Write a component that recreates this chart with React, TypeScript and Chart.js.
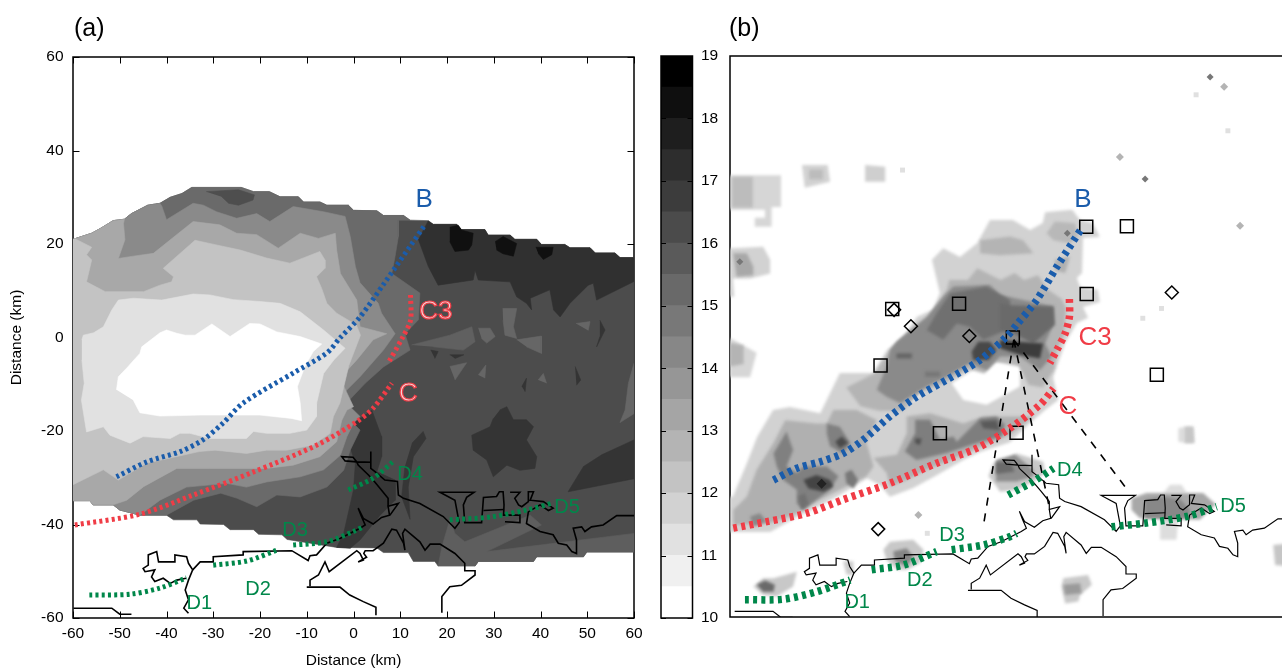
import React, { useEffect, useRef } from "react";
import { Chart, registerables } from "chart.js";

Chart.register(...registerables);

type P = [number, number];

// ---- colour bar ----
const barEdges = [10, 10.5, 11, 11.5, 12, 12.5, 13, 13.5, 14, 14.5, 15, 15.5, 16, 16.5, 17, 17.5, 18, 18.5, 19];
const barGreys = [255, 240, 225, 210, 195, 180, 165, 150, 135, 120, 105, 90, 75, 60, 45, 30, 15, 0];

// ---- panel (a): contour outlines in km ----
const topA: P[] = [[-60, 21], [-56, 22.3], [-54, 23.4], [-51.4, 25], [-49, 25.3]];
const topB: P[] = [[-47.5, 26.5], [-44, 28.3], [-41.4, 28.7]];
const topC: P[] = [[-39.2, 30], [-36.7, 30.8], [-34.6, 32.1], [-24, 32.1], [-21.4, 31.2], [-18, 31.2], [-15.7, 30.1], [-11.8, 30.1], [-10.7, 29], [-7.2, 29], [-5.7, 28.3], [-1.1, 28.3], [0, 27.2], [5, 27.1], [6.4, 26.1], [10.7, 26.1], [12.1, 25.1]];
const topD: P[] = [[16, 25], [17.1, 24.2], [22.1, 24.2], [23.1, 23.1], [28.1, 23.1], [28.8, 21.9], [33.5, 21.9], [34.5, 21], [39.2, 21], [40.2, 19.9], [45.2, 19.9], [46.3, 19.2], [50.6, 19.2], [51.7, 18.1], [55.9, 18.1], [57, 17.1], [60, 17.1]];
const bottomEdge: P[] = [[60, -45.9], [49.9, -45.9], [49.2, -46.9], [39.2, -46.9], [38.5, -47.9], [26.7, -47.9], [26, -48.9], [18.1, -48.9], [17.4, -47.9], [12.8, -47.9], [11.7, -46], [6.4, -46], [5, -45], [-3.6, -44.9], [-14.2, -43.2], [-15.3, -42.2], [-20.3, -42.1], [-21.4, -41.1], [-26.4, -41.1], [-27.8, -40], [-32.8, -39.9], [-33.5, -39], [-38.5, -39], [-40, -38]];
const bottomLeft1: P[] = [[-45.7, -38], [-50, -36.9]];
const bottomLeft2: P[] = [[-51.4, -35.8], [-55.7, -35.8], [-56.4, -34.9], [-60, -34.9]];

const band6Edge: P[] = [[9.6, 25.1], [9.6, 21.6], [8.9, 17.4], [8.2, 13.7], [14.2, 9.5], [13.9, 3.8], [11, 0.8], [12.1, -2.7], [6.4, -6.3], [2.5, -9.8], [-2.9, -15.5], [1.4, -19.8], [-0.7, -24.1], [-2.1, -28.4], [-5.7, -32], [-11.4, -34.1], [-16.4, -33.7], [-20.7, -36.2], [-24.9, -34.4], [-28.4, -33.3], [-34.2, -34.8], [-40, -38]];
const band5Edge: P[] = [[-41, 28.1], [-40, 25.2], [-34.3, 28.7], [-32.1, 28.3], [-29.3, 26.9], [-25, 25.5], [-20.7, 26.5], [-17.9, 24.8], [-12.9, 28], [-6.4, 26.9], [-1.8, 25.9], [-0.7, 21.6], [0.4, 15.2], [1.4, 11.7], [5.3, 7.3], [6, 5.2], [8.9, 0.8], [6.4, -2.7], [1.4, -8.4], [-2.9, -12.7], [1.4, -16.9], [0, -18.3], [-1.4, -21.2], [-2.8, -25.2], [-6.4, -28.3], [-11.4, -29.8], [-18.6, -30.9], [-22.9, -32], [-27.1, -31.2], [-35.7, -32], [-41.4, -34.8]];
const band4Edge: P[] = [[-49.2, 24.4], [-48.9, 20.9], [-50.3, 16.9], [-47.1, 17.4], [-42.8, 18], [-34.3, 24.8], [-28.6, 24.1], [-25, 22.3], [-20.7, 22], [-16.1, 19.1], [-11.4, 22.3], [-7.5, 21.2], [-3.9, 22.3], [-3.6, 18.7], [-2.8, 13.7], [0.7, 8], [1.4, 2.3], [7.1, 0.8], [4.2, -0.5], [0.7, -4.8], [-2.9, -8.7], [0, -14.8], [-1.4, -15.5], [-2.5, -17.7], [-3.6, -22.3], [-7.2, -25.5], [-12.9, -27.3], [-18.6, -28], [-30.7, -28], [-37.8, -28], [-44.9, -31.9], [-48.5, -34.8]];
const band3: P[] = [[-59.7, 21.2], [-56, 19.3], [-57.1, 17.7], [-56, 16.6], [-57.1, 11.9], [-53.1, 9.8], [-44.9, 9.8], [-41.4, 11.2], [-38.9, 11.9], [-38.5, 13], [-40.7, 14.8], [-33.9, 20.8], [-29.3, 19.8], [-24.2, 18.7], [-18.6, 17], [-13.6, 15.9], [-7.2, 18.4], [-6.1, 16.6], [-6.1, 14.8], [-7.9, 13], [-6.8, 10.5], [-5.7, 7.3], [-3.6, 5.2], [0.6, 2.7], [1.5, 0.5], [-1, -6], [-2.9, -14], [-4.3, -16.9], [-5, -20.5], [-8.6, -23], [-14.3, -24.1], [-18.6, -24.1], [-22.9, -24.8], [-29.6, -24.1], [-33, -24.4], [-38, -25.5], [-44.3, -26.9], [-50.3, -30.5], [-53.5, -28.3], [-60, -31.5], [-60, 21]];
const band2: P[] = [[-58.1, -0.5], [-57.8, 0.5], [-55.6, 1], [-53.5, 2.3], [-51.7, 5.9], [-50.3, 8], [-47.1, 8.4], [-41, 8], [-34.3, 9.3], [-30.7, 9.1], [-25.7, 8.1], [-20, 7.7], [-15.7, 7.3], [-11.4, 5.5], [-6.4, 1.6], [-1.8, -2.3], [-4.2, -4.8], [-6.4, -7.7], [-7.9, -14.1], [-7.9, -16.9], [-10, -19.8], [-13.6, -20.5], [-18.6, -20.5], [-21.4, -20.1], [-22.9, -21.6], [-30.7, -21.6], [-35, -20.5], [-37.1, -20.5], [-39.2, -21.6], [-45, -21.2], [-47.8, -22.6], [-52.1, -20.9], [-53.5, -19.1], [-57.1, -20.2], [-58.2, -13.4], [-57.6, -9.8], [-58.1, -4.8]];
const band1: P[] = [[-50.7, -11.2], [-50.3, -8.4], [-48.2, -6.2], [-47.5, -5.4], [-45.7, -3.4], [-45.3, -2], [-41.4, 1], [-40, 1.6], [-37.8, 0.9], [-36, 0.5], [-33.9, 0.5], [-30.3, 2.9], [-26.4, 0.2], [-22.2, 3], [-20, 2.9], [-16.4, 1.2], [-11.4, 0.2], [-6.8, -1.4], [-8.6, -3], [-10.4, -6.2], [-12, -10.5], [-11.4, -14], [-11.1, -17.8], [-13.3, -17.3], [-20, -16.6], [-32.8, -16.6], [-41.4, -16.8], [-45.7, -16.1], [-47.1, -13.4]];
const topPatch: P[] = [[-31.5, 31.2], [-24.6, 31.6], [-21.2, 30.5], [-21.5, 29.4], [-24.6, 28.3], [-26.7, 28.7], [-28.2, 30.1]];

const darkNorth: P[] = [[16, 25], [13.9, 20.9], [16, 15.2], [18.1, 11.2], [25.6, 12.3], [26, 14.4], [26.7, 12.3], [33.5, 11.9], [34.9, 8.7], [37, 7.3], [38.1, 5.9], [37.8, 8.4], [42, 10.2], [42.8, 5.9], [44.2, 4.4], [46.3, 7.3], [50.2, 11.2], [51.3, 11.6], [52, 8], [60, 12], [60, 17.1], [57, 17.1], [55.9, 18.1], [51.7, 18.1], [50.6, 19.2], [46.3, 19.2], [45.2, 19.9], [40.2, 19.9], [39.2, 21], [34.5, 21], [33.5, 21.9], [28.8, 21.9], [28.1, 23.1], [23.1, 23.1], [22.1, 24.2], [17.1, 24.2]];
const black1: P[] = [[20.6, 23.6], [22.4, 24], [23.1, 23], [25.6, 22.3], [25.3, 19.8], [24.6, 18.7], [21.7, 18.4], [20.6, 20.5]];
const black2: P[] = [[30.3, 20.5], [32, 21.6], [34.9, 20.1], [34.2, 17.4], [32, 17.9], [30.6, 18.7]];
const black3: P[] = [[39, 19.3], [42.7, 19.3], [42.4, 17.7], [40.6, 16.7], [39.5, 18]];
const darkCentre: P[] = [[31.3, -15.5], [32.8, -14.8], [34.2, -17.6], [37, -17.6], [38.5, -19.1], [37, -21.9], [39.2, -25.5], [38.8, -28], [35.6, -28.4], [32.8, -27.3], [29.9, -29.8], [28.5, -26.2], [25.6, -24.1], [25.3, -20.9], [29.2, -19.1], [29.9, -17.3]];
const darkEast: P[] = [[60, -21.9], [53.1, -25.1], [49.2, -27.6], [45.9, -33], [60, -30.2]];
const darkCoast: P[] = [[3.9, -15.5], [6, -21.2], [6, -25.5], [5, -28.7], [8.9, -30.5], [8.9, -34.8], [5.7, -38], [1.4, -43.3], [-0.7, -45.1], [-3.6, -44.9], [-2.1, -41.9], [0, -32.6], [0.4, -26.9], [-1, -22.6], [0, -18.3], [1.4, -17.3]];
const darkStreak: P[] = [[12.5, -22.6], [14.9, -20.1], [15.5, -21.6], [12.8, -25.5], [11.7, -32], [12.1, -38.9], [10.3, -34.1], [11, -27.6]];
const lightSouth: P[] = [[18.1, -48.9], [18.9, -44.8], [20.6, -39], [21.7, -41.9], [23.8, -43.7], [37.8, -38], [40.2, -40.1], [28.5, -45.8], [60, -41.9], [60, -45.9], [49.9, -45.9], [49.2, -46.9], [39.2, -46.9], [38.5, -47.9], [26.7, -47.9], [26, -48.9]];
const lightA1: P[] = [[26.7, 2], [29.2, 2], [30.3, 0.2], [28.5, -1.2], [27.4, -0.2]];
const lightA2: P[] = [[31.9, 6.2], [34.9, 6.2], [34.2, 2.3], [34.9, -0.2], [32.4, 0.5], [32, 3.7]];
const lightA3: P[] = [[34.9, -0.5], [40.2, 0.3], [40.2, -3.4], [37, -2]];
const lightA4: P[] = [[20.6, -6.2], [24.2, -5.4], [21.7, -9.1]];
const lightA5: P[] = [[26.7, -8], [28.3, -5.9], [28.1, -8.7]];
const lightA6: P[] = [[47.6, 3], [50.6, 3.4], [50.2, 1.5]];
const lightA7: P[] = [[39.5, -9.1], [40.6, -7.7], [41.3, -9.8]];
const lightA8: P[] = [[12.4, -1.6], [20.6, 0.5], [25.3, 2.3], [26, -0.9], [23.5, -2.7], [17.1, -2]];
const lightA9: P[] = [[60, -5.5], [58.8, -9.8], [58.1, -15.5], [57, -18.2], [60, -16.3]];
const darkA1: P[] = [[16.5, -2.7], [18.1, -3], [17.4, -4.5]];
const darkA2: P[] = [[20.6, -3.7], [23.6, -3.7], [21.7, -4.5]];
const darkA3: P[] = [[47.4, -6.2], [48.6, -9.1], [47.7, -10.2]];
const darkA4: P[] = [[52.7, 3.7], [53.8, 1.6], [52, -2], [52.7, 0.2]];
const darkA5: P[] = [[36, -10.5], [37, -8.7], [36.7, -11.6]];

// ---- shared coastline in km ----
const coastSW: P[] = [[-59.9, -57.9], [-51.7, -57.9], [-50, -59.2], [-47.5, -59.2]];
const coastWest: P[] = [[-35.3, -59], [-36.3, -57.9], [-35.3, -56.1], [-36, -54], [-35.3, -51.9], [-34.4, -49.7], [-35.3, -48.3], [-35.7, -46.9], [-38.2, -46.5], [-38.2, -48], [-41.7, -48], [-42.1, -45.8], [-43.9, -46.5], [-43.9, -48.7], [-45, -49.4], [-44.6, -50.1], [-42.5, -49.7], [-43.2, -51.2], [-42.5, -52.2], [-40.7, -51.5], [-39.2, -52.6], [-37.8, -51.9], [-35.8, -51.5]];
const coastNorth: P[] = [[-34.4, -49.7], [-32.8, -48], [-30, -48], [-30, -46.9], [-23.6, -46.5], [-23.6, -45.8], [-13.2, -45.6], [-9.7, -47.7], [-9.3, -46.7], [-7.9, -46.5], [-5.7, -44], [-2.9, -43], [1.4, -40.8], [2.5, -40.1], [1.7, -38.3], [1, -36.5], [2.1, -38.7], [4.2, -39.9], [6, -38.5], [7.7, -38], [7.4, -36.1], [9.6, -35.5], [7.8, -38]];
const coastInlet: P[] = [[7.4, -36.1], [7.4, -34.4], [5.7, -32.3], [4.2, -30.5], [3.2, -29.4], [1, -27.3], [0.7, -26.6], [-0.1, -25.6], [-2.5, -25.5], [-1.8, -26.4], [0.7, -26.6], [3.7, -26.7], [3.7, -24.4], [3.7, -28], [4.6, -28.7], [6.7, -30.5], [9.4, -30.8], [9.6, -33.7], [10.7, -34.4], [14.2, -35.5], [19.2, -38.3], [21.7, -40.8], [22.6, -39.6], [21.7, -34.8], [18.5, -33.1], [25.8, -33.1], [24.2, -34.2], [23.5, -35.8], [23.8, -39.6], [27.4, -39.6], [27.8, -34.2], [30.6, -34], [31.2, -33], [32, -33], [32.2, -35.8], [32.1, -38], [35.6, -38], [35.6, -39.6], [32.4, -39.4]];
const coastBox: P[] = [[27.8, -37], [32.2, -36.8]];
const coastEast: P[] = [[33.5, -33.1], [35.6, -33.1], [34.5, -34.4], [35.3, -35.8], [36, -36.2], [37.4, -35.1], [37.4, -33], [38.5, -33], [37.8, -34.8], [40.6, -35.1], [42.7, -36.5], [41.7, -37], [39.9, -35.8], [37.4, -37.3], [37, -39.8], [39.9, -41.5], [42.7, -42.2], [43.8, -44], [45.6, -44.4], [46.7, -45.8], [47.7, -46.2], [47.7, -43.3], [47, -40.8], [48.8, -40.5], [49.5, -41.5], [50.9, -40.5], [53.4, -40.1], [56.3, -38.1], [60, -38.1]];
const coastIsleW: P[] = [[-10, -53.4], [-2.9, -53.4], [-0.8, -55.1], [2.1, -56.5], [4.8, -57.7], [4.8, -59.4]];
const coastIsleE: P[] = [[-9.3, -53.2], [-9.3, -51.9], [-7.5, -50.8], [-6.1, -48], [-5.2, -50.1], [0.7, -45.6], [1.4, -46.2], [2.1, -47.6], [1, -48], [2.8, -47], [2.2, -46.2], [2.5, -45.6], [4.2, -45.6], [6.4, -44], [8.2, -41], [9.2, -41.2], [10.7, -44], [11, -45.5], [10.5, -41.9], [11, -41], [14.2, -43.7], [15.3, -45.5], [16.4, -44.2], [18.5, -44.2], [21.7, -46.2], [23.8, -48.3], [23.8, -49.9], [26, -49.9], [26, -50.8], [23.1, -53], [20.6, -53.3], [18.9, -55.4], [18.9, -58.9]];

// ---- front lines, panel (a) ----
const lineB_a: P[] = [[-50.7, -29.8], [-44.2, -26.6], [-37.1, -24.4], [-32.2, -21.9], [-27.9, -18.3], [-23.6, -14], [-12.9, -7.6], [-5.7, -3.3], [-2.9, -0.1], [1.4, 4.4], [6.3, 11.2], [15.3, 24.1]];
const lineC_a: P[] = [[-59.6, -40.1], [-45.7, -37.8], [-34.3, -33.7], [-21.5, -28.8], [-7.8, -23], [0.7, -18], [4.2, -15.1], [8.2, -9.8]];
const lineC3_a: P[] = [[12.2, 9.1], [12.2, 3.7], [10.6, 0.2], [7.4, -5.5]];
const lineD1_a: P[] = [[-56.5, -55.1], [-47.8, -54.9], [-41.4, -53.6], [-35.7, -51.4]];
const lineD2_a: P[] = [[-30, -48.7], [-22.8, -47.8], [-16.4, -45.5]];
const lineD3_a: P[] = [[-12.9, -44.4], [-5.7, -43.7], [0, -41.5], [2.1, -40.5]];
const lineD4_a: P[] = [[-1.1, -32.6], [4.2, -30.1], [8.4, -26.6]];
const lineD5_a: P[] = [[20.6, -39], [29.2, -38.4], [37, -36.9], [42.7, -35.4]];

// ---- front lines, panel (b) ----
const lineB_b: P[] = [[-51.6, -29.8], [-46.6, -27.3], [-41.6, -25.9], [-36.7, -24.1], [-32.4, -21.2], [-26.7, -16.2], [-21, -12], [-14.6, -8.4], [-7.4, -4.1], [-1.7, 0.9], [0.4, 3.4], [4.7, 8.7], [9, 15.8], [14.3, 24]];
const lineC_b: P[] = [[-60.2, -40.1], [-53, -38.7], [-44.5, -36.9], [-36.7, -34], [-26.7, -30.5], [-16.7, -26.2], [-8.1, -23], [-1, -18.7], [5.4, -13.7], [8.3, -10.2]];
const lineC3_b: P[] = [[11.7, 8.9], [11.7, 5.1], [10.8, 1.6], [9, -2], [7.5, -4.8]];
const lineD1_b: P[] = [[-57.7, -55.4], [-49.5, -55.3], [-42.4, -53.7], [-35.2, -51.2]];
const lineD2_b: P[] = [[-30.6, -49], [-23.8, -48], [-16.7, -45.1]];
const lineD3_b: P[] = [[-13.5, -44.7], [-6.7, -43.7], [-1, -41.9], [0.4, -41.2]];
const lineD4_b: P[] = [[-1.4, -33], [4, -30.1], [8.3, -27.3]];
const lineD5_b: P[] = [[20.7, -39.8], [28.2, -39], [36.8, -37.6], [43.2, -35.5]];
const sightA: P[] = [[-0.2, 0.2], [-6.6, -39]];
const sightB: P[] = [[-0.2, 0.2], [7.6, -36.6]];
const sightC: P[] = [[-0.2, 0.2], [23.8, -31.5]];
const squares: P[] = [[-26.2, 6.8], [-11.9, 7.9], [-28.7, -5.3], [15.3, 24.4], [24, 24.5], [15.4, 10], [30.4, -7.3], [-0.4, 0.7], [-16, -19.8], [0.4, -19.7]];
const diamonds: P[] = [[-25.8, 6.6], [-22.2, 3.1], [-9.7, 1], [33.6, 10.3], [-29.2, -40.3]];

// ---- panel (b): echo patches in km ----
const echoMain: P[] = [[-60.9, -33.4], [-60.3, -33.4], [-57.3, -26.2], [-55.1, -20.6], [-51.7, -14.8], [-48.1, -14.2], [-41.6, -15.5], [-37.4, -6.9], [-30.3, -6.9], [-27.3, -2], [-23.9, 0.6], [-20.9, 5.1], [-17.5, 6.6], [-16, 10.2], [-17.7, 17.3], [-15.3, 19.8], [-11.7, 17.9], [-8, 20.9], [-5.3, 25.8], [-0.4, 25.8], [3.3, 23.7], [6, 25.2], [6.5, 27.5], [12.3, 28], [14, 25.8], [16.7, 25.2], [18.2, 22.2], [14.6, 22], [14.4, 14.5], [13.3, 13.4], [14, 11.5], [17.8, 10.9], [18.2, 8.3], [14.6, 7.2], [15.7, 4.9], [13.3, 3.8], [10.8, -0.5], [8.2, -7.8], [9.3, -12.7], [6.5, -14.8], [3.3, -17.6], [-1, -21.7], [-7.4, -23.8], [-11, -25.5], [-16.6, -28.7], [-21.7, -31.5], [-26.7, -33.4], [-28.8, -30.9], [-31.6, -29.4], [-37.4, -33], [-42.3, -35.6], [-46.6, -37.7], [-52.3, -40.9], [-60.9, -40.9]];
const holeCentre: P[] = [[-13.5, -9.1], [-6.7, -4.8], [-1, -4.1], [1.1, -4.8], [1.1, -9.8], [-6, -13.7], [-11, -12.7]];
const holeSmall1: P[] = [[-24.5, -14.1], [-18.8, -10.2], [-21, -12.7]];
const holeSmall2: P[] = [[-42.7, -24.1], [-40.2, -23.7], [-39.1, -26.2], [-43, -25.5]];
const upperMid: P[] = [[-30, -7], [-27.3, -3], [-24.5, 0.2], [-20.5, 3.5], [-18, 5.5], [-16, 8.5], [-14.5, 11], [-14, 13], [-10, 13], [-8, 15.5], [-6, 14.5], [-3, 13], [0, 14.5], [2, 13], [5, 14], [7, 11], [10, 9], [11, 7], [10.5, 1], [9, -2], [8.5, -6], [6, -10], [3, -9.5], [1, -5.5], [-4, -4.5], [-6.5, -7], [-10, -6], [-15, -9], [-20, -11], [-24, -15], [-29, -15], [-33, -14], [-36, -10]];
const upperMidB: P[] = [[-7.4, 21.5], [-1, 22.3], [1.8, 21.5], [4, 18.7], [-3.15, 18.3], [-7.4, 18.7]];
const upperMidC: P[] = [[6.8, 23], [8.6, 25.5], [12.9, 25.1], [13.6, 22.3], [11.8, 20.8], [8.3, 21.5]];
const upperMidD: P[] = [[8.6, 17.3], [11.8, 18], [10.8, 14.5], [8.6, 15]];
const upperDeep: P[] = [[-26.7, -2], [-25.3, -0.2], [-18.8, 5.1], [-15.3, 9.4], [-13.1, 11.6], [-5.3, 11.9], [-3.15, 9.8], [8.3, 7.3], [8.3, 3.7], [6.5, -0.6], [7.9, -3.4], [5.4, -6.3], [1.1, -3.4], [-3.15, -3.4], [-6, -6.3], [-9.6, -4.8], [-14.6, -7.7], [-18.8, -9.8], [-24.5, -13.4], [-27.4, -12], [-29.5, -10.5], [-27.4, -5.5]];
const upperDeepW: P[] = [[-13.8, 10.1], [-6, 11.6], [-1, 8.7], [-1, 2.6], [-6.7, 0.2], [-9.6, 3], [-12.4, 3.7], [-15.3, 0.2], [-18.8, 2.3], [-16.7, 5.9]];
const upperDeepE: P[] = [[-3.15, 8], [-1, 7.6], [8.3, 7.3], [8.6, 3.4], [4, -0.6], [-0.3, 1.6], [-3.15, 2.3]];
const coreNE: P[] = [[-3.15, 0.15], [0.4, -0.2], [6.1, -0.6], [5.4, -3.8], [1.1, -3], [-3.15, -1.6]];
const coreN: P[] = [[-9.2, -2.3], [-7.8, -0.2], [-5.3, -0.2], [-3.9, -2], [-5.6, -4.1], [-8.9, -4.1]];
const stripA: P[] = [[-25.3, -2.7], [-22, -2.7], [-22, -3.8], [-25.3, -3.8]];
const stripB: P[] = [[-19.2, -6.6], [-16, -6.6], [-16, -7.7], [-19.2, -7.7]];
const lowerWest: P[] = [[-60.2, -36.2], [-57.3, -33.3], [-55.2, -27.6], [-51.6, -21.9], [-49.1, -17], [-42.4, -17.7], [-40.2, -17.7], [-38.8, -14.8], [-33.8, -14.8], [-29.5, -17], [-31.7, -21.9], [-30.2, -26.9], [-31.7, -29], [-37.4, -31.9], [-42.4, -34.4], [-46.6, -36.9], [-52.3, -39], [-60.2, -39.4]];
const lowerDeep: P[] = [[-51.6, -24.1], [-48.8, -19.4], [-47.4, -23.4], [-48.8, -26.9], [-46.6, -28.3], [-45.2, -26.9], [-40.2, -26.9], [-37.7, -29], [-39.5, -31.9], [-42.4, -34], [-45.2, -36.2], [-46.6, -34.8], [-46.6, -31.9], [-49.5, -29.8], [-50.9, -26.9]];
const lowerCore: P[] = [[-45.2, -29.8], [-42.4, -28.7], [-39.5, -29.8], [-38.8, -31.2], [-40.9, -32.3], [-44.1, -31.6]];
const lowerUp: P[] = [[-40.2, -17.7], [-37.4, -18.4], [-35.2, -21.9], [-36.7, -24.1], [-39.5, -22.6], [-40.2, -19.8]];
const lowerUpCore: P[] = [[-38.4, -21.6], [-37, -20.5], [-35.6, -21.9], [-37.4, -23]];
const lowerC: P[] = [[-36.3, -28.3], [-34.9, -27.6], [-33.5, -29.8], [-34.5, -31.6], [-36, -30.5]];
const lowerD: P[] = [[-56.6, -37.6], [-54.5, -36.9], [-53.1, -38.7], [-55.9, -39.8]];
const lowerE: P[] = [[-46.3, -33.3], [-44.9, -32.6], [-44.1, -34.8], [-45.6, -36.2]];
const midBand: P[] = [[-30.2, -25.1], [-25.2, -24.4], [-23.1, -19.8], [-23.1, -16.2], [-18.1, -15.5], [-11, -17.7], [-6.7, -16.2], [-3.1, -16.2], [4, -16.2], [-1, -20.1], [-8.1, -23], [-13.8, -25.5], [-18.8, -27.6], [-23.1, -29.8], [-26.7, -31.2], [-27.4, -28.3]];
const midDeep: P[] = [[-23.5, -23.7], [-21.3, -19.8], [-21.3, -16.9], [-18.1, -16.9], [-16, -21.2], [-13.1, -20.5], [-12.4, -21.6], [-7.4, -16.6], [-3.9, -16.2], [-2.1, -18], [-2.8, -20.5], [-8.1, -21.9], [-14.6, -24], [-21, -25.5]];
const midCoreA: P[] = [[-21.3, -20.9], [-19.9, -20.9], [-20.3, -22.3], [-21.3, -21.9]];
const midCoreB: P[] = [[-7.4, -17.3], [-3.9, -17], [-3.2, -19.1], [-6.7, -18.7]];
const westA: P[] = [[-60.3, 19.8], [-53.8, 20.1], [-52.3, 17.3], [-52.3, 14.4], [-56.6, 13.3], [-60.3, 13.3], [-60, 9.4], [-60.9, 9.4], [-60.9, 19.8]];
const westAInner: P[] = [[-60.2, 18.7], [-57.3, 18.7], [-55.9, 15.8], [-55.9, 14], [-59.5, 13.7]];
const westB: P[] = [[-60.9, 35.4], [-50, 35.4], [-50, 28.6], [-52, 28.6], [-52, 24.4], [-55.6, 24.4], [-55.6, 26.3], [-53.4, 26.3], [-53.4, 28], [-60.9, 28]];
const westBInner: P[] = [[-60.5, 35], [-56, 35], [-56, 28.5], [-60.5, 28.5]];
const northA: P[] = [[-45.5, 37.6], [-40, 37.6], [-39.5, 34], [-44.9, 32.7]];
const northAInner: P[] = [[-44, 36.6], [-41, 36.6], [-41, 34.5], [-44, 34.5]];
const northB: P[] = [[-32, 37.6], [-27.7, 37.2], [-27.7, 34], [-32, 34]];
const westC: P[] = [[-60.9, 0.6], [-55.2, -2.6], [-56.6, -7.8], [-60.9, -7.8]];
const westCInner: P[] = [[-60.9, -0.5], [-58, -1], [-58, -5], [-60.9, -5.5]];
const eastBlob: P[] = [[35, -18.7], [36.4, -18.4], [38.2, -18.4], [38.4, -21.9], [36.4, -21.9], [35, -21.6]];
const eastBlobInner: P[] = [[36.4, -18.4], [38.2, -18.4], [38.4, -21.9], [36.4, -21.9]];
const edgeBlob: P[] = [[55.3, -43.7], [59, -43.3], [59, -48.3], [55.7, -48]];
const d5Top: P[] = [[31.8, -32.6], [33.2, -30.8], [35.7, -30.8], [36.8, -32.6]];
const d5Bottom: P[] = [[31.1, -38], [35, -38], [34.6, -42.6], [31.1, -42.6]];
const d5Outer: P[] = [[25, -33.7], [28.2, -32.6], [40.3, -32.6], [43, -35], [39.6, -38.3], [26.8, -38], [25, -36.2]];
const d5Inner: P[] = [[27.8, -34], [31.8, -33.3], [35.5, -34], [37.5, -36.2], [37, -38], [27.8, -38]];
const d4Outer: P[] = [[-5.6, -29], [-4.6, -26.2], [-1, -24.8], [0.4, -24.1], [6.1, -25.9], [6.5, -28.3], [4, -30.1], [0.4, -31.9], [-3.15, -32.3], [-3.9, -31.2]];
const d4Inner: P[] = [[-4, -25.5], [0.06, -24.4], [4, -27.6], [4, -29], [0.4, -30.1], [-4, -30.1]];
const d4Core: P[] = [[-4, -26], [-1, -26], [0, -28], [-4, -28.5]];
const isleOuter: P[] = [[10, -52.6], [10.4, -50.8], [15.7, -50.1], [16.5, -52.2], [14, -54.4], [13.6, -55.8], [10.8, -56.2]];
const isleInner: P[] = [[10.4, -52.2], [14, -51.9], [14.3, -54], [10.8, -54.4]];
const d2Outer: P[] = [[-28.1, -44.7], [-26.7, -43], [-21.7, -42.6], [-19.5, -44.7], [-20.3, -47.6], [-23.1, -49], [-25.2, -49], [-27.4, -46.9]];
const d2Inner: P[] = [[-26, -45.1], [-23.1, -44.4], [-21.7, -46.2], [-23.1, -48.3], [-25.6, -47.2]];
const d15Blob: P[] = [[-36.7, -47.2], [-34.5, -47.2], [-34.5, -50.1], [-36, -50]];
const d1Outer: P[] = [[-55.9, -52.6], [-53.8, -50.8], [-51.6, -50.8], [-46.6, -49.4], [-47.4, -52.6], [-50.9, -54.7], [-53.8, -54.4]];
const d1Inner: P[] = [[-55.2, -52.2], [-53.4, -51.3], [-51.3, -52.2], [-51.6, -53.7], [-53.8, -53.7]];
const specksDark: P[] = [[41.8, 56.4], [27.9, 34.6], [-58.8, 16.9], [11.25, 23]];
const specksMid: P[] = [[44.8, 54.3], [22.5, 39.3], [-20.6, -37.3], [48.2, 24.6]];
const specksLight: P[] = [[38.8, 52.6], [31.4, 6.9], [27.4, 4.8], [-18.7, -41.2], [45.6, 44.9], [-24, 36.5]];
const specksBlack: P[] = [[-41.3, -30.6]];

const labelsA = { B: [15.1, 29.4], C3: [17.6, 5.5], C: [11.7, -12.1], D1: [-33, -56.8], D2: [-20.4, -54], D3: [-12.5, -41.2], D4: [12.1, -29.4], D5: [45.7, -36.3] };
const labelsB = { B: [14.6, 30.1], C3: [17.2, 0.6], C: [11.4, -14.2], D1: [-33.7, -56.1], D2: [-20.3, -51.2], D3: [-13.4, -41.6], D4: [11.8, -27.7], D5: [46.7, -35.4] };

const BLUE = "#1a5cab";
const RED = "#f03c46";
const GREEN = "#00874a";
const FONT = '"Liberation Sans", Arial, sans-serif';

const pts = (a: P[]) => a.map(([x, y]) => ({ x, y }));

const poly = (a: P[], color: string) => ({
  data: pts(a), showLine: true, pointRadius: 0, borderWidth: 0.6, borderColor: color, polyFill: color, tension: 0,
});
const echo = (a: P[], color: string) => ({
  data: pts(a), showLine: true, pointRadius: 0, borderWidth: 0, borderColor: color, polyFill: color, polyBlur: 1.6, tension: 0,
});
const path = (a: P[], color: string, width: number, dash: number[] = [], tension = 0) => ({
  data: pts(a), showLine: true, pointRadius: 0, borderWidth: width, borderColor: color, borderDash: dash,
  backgroundColor: "transparent", tension, fill: false, borderCapStyle: "butt",
});
const marks = (a: P[], style: string, r: number, color: string, fillColor = "transparent", bw = 1.5) => ({
  data: pts(a), showLine: false, pointStyle: style, pointRadius: r, pointBackgroundColor: fillColor,
  pointBorderColor: color, pointBorderWidth: bw,
});
const ordered = (list: any[]) => list.map((d, i) => ({ ...d, order: list.length - i }));

const panelPlugin: any = {
  id: "panel",
  beforeDatasetDraw(chart: any, args: any) {
    const ds = chart.data.datasets[args.index];
    if (!ds.polyFill) return;
    const els = args.meta.data;
    const { ctx, chartArea: c } = chart;
    ctx.save();
    ctx.beginPath();
    ctx.rect(c.left, c.top, c.right - c.left, c.bottom - c.top);
    ctx.clip();
    if (ds.polyBlur) ctx.filter = `blur(${ds.polyBlur}px)`;
    ctx.beginPath();
    els.forEach((e: any, i: number) => (i ? ctx.lineTo(e.x, e.y) : ctx.moveTo(e.x, e.y)));
    ctx.closePath();
    ctx.fillStyle = ds.polyFill;
    ctx.fill();
    ctx.restore();
  },
  beforeDatasetsDraw(chart: any, _a: any, o: any) {
    if (!o.onTop) frame(chart, o);
  },
  afterDatasetsDraw(chart: any, _a: any, o: any) {
    if (o.onTop) frame(chart, o);
    const { ctx, scales } = chart;
    for (const l of o.labels || []) {
      const x = scales.x.getPixelForValue(l.at[0]);
      const y = scales.y.getPixelForValue(l.at[1]);
      ctx.save();
      ctx.font = `${l.size}px ${FONT}`;
      ctx.textAlign = "center";
      ctx.textBaseline = "middle";
      ctx.fillStyle = l.inner || l.color;
      ctx.fillText(l.text, x, y);
      if (l.inner) {
        ctx.strokeStyle = l.color;
        ctx.lineWidth = 1.2;
        ctx.strokeText(l.text, x, y);
      }
      ctx.restore();
    }
  },
};

function frame(chart: any, o: any) {
  const { ctx, chartArea: c, scales } = chart;
  ctx.save();
  ctx.strokeStyle = "#000";
  ctx.lineWidth = o.width || 1.5;
  ctx.strokeRect(c.left, c.top, c.right - c.left, c.bottom - c.top);
  ctx.lineWidth = 1;
  const len = o.tick || 0;
  if (len) {
    ctx.beginPath();
    for (const t of scales.y.ticks) {
      const y = Math.round(scales.y.getPixelForValue(t.value)) + 0.5;
      ctx.moveTo(c.left, y); ctx.lineTo(c.left + len, y);
      ctx.moveTo(c.right, y); ctx.lineTo(c.right - len, y);
    }
    if (o.xTicks) {
      for (const t of scales.x.ticks) {
        const x = Math.round(scales.x.getPixelForValue(t.value)) + 0.5;
        ctx.moveTo(x, c.top); ctx.lineTo(x, c.top + len);
        ctx.moveTo(x, c.bottom); ctx.lineTo(x, c.bottom - len);
      }
    }
    ctx.stroke();
  }
  ctx.restore();
}

const labelList = (src: any, size: number, bigSize: number, outlined: boolean) => [
  { text: "B", at: src.B, color: BLUE, size: bigSize },
  { text: "C3", at: src.C3, color: RED, size: bigSize, inner: outlined ? "#f7d2d4" : undefined },
  { text: "C", at: src.C, color: RED, size: bigSize, inner: outlined ? "#f7d2d4" : undefined },
  ...["D1", "D2", "D3", "D4", "D5"].map((k) => ({ text: k, at: src[k], color: GREEN, size })),
];

const coastSets = (w: number) =>
  [coastSW, coastWest, coastNorth, coastInlet, coastBox, coastEast, coastIsleW, coastIsleE].map((c) => path(c, "#000", w));

const panelASets = () => ordered([
  poly([...topA, ...topB, ...topC, ...topD, ...bottomEdge, ...bottomLeft1, ...bottomLeft2], "#4c4c4c"),
  poly(lightSouth, "#5e5e5e"),
  poly(lightA1, "#666666"), poly(lightA2, "#666666"), poly(lightA3, "#666666"), poly(lightA4, "#666666"),
  poly(lightA5, "#666666"), poly(lightA6, "#666666"), poly(lightA7, "#666666"), poly(lightA8, "#606060"), poly(lightA9, "#666666"),
  poly(darkNorth, "#303030"), poly(black1, "#101010"), poly(black2, "#101010"), poly(black3, "#101010"),
  poly(darkCentre, "#343434"), poly(darkEast, "#343434"), poly(darkCoast, "#363636"), poly(darkStreak, "#363636"),
  poly(darkA1, "#343434"), poly(darkA2, "#343434"), poly(darkA3, "#343434"), poly(darkA4, "#343434"), poly(darkA5, "#343434"),
  poly([...topA, ...topB, ...topC, ...band6Edge, ...bottomLeft1, ...bottomLeft2], "#6a6a6a"),
  poly([...topA, ...topB, ...band5Edge, ...bottomLeft1, ...bottomLeft2], "#8a8a8a"),
  poly([...topA, ...band4Edge, ...bottomLeft2], "#a8a8a8"),
  poly(band3, "#c3c3c3"),
  poly(band2, "#e1e1e1"),
  poly(band1, "#ffffff"),
  poly(topPatch, "#4e4e4e"),
  ...coastSets(1.6),
  path(lineB_a, BLUE, 5, [3, 3.2], 0.3),
  path(lineC_a, RED, 5, [3, 3.2], 0.3),
  path(lineC3_a, RED, 5, [3, 3.2], 0.3),
  path(lineD1_a, GREEN, 5, [3, 3.2], 0.3),
  path(lineD2_a, GREEN, 5, [3, 3.2], 0.3),
  path(lineD3_a, GREEN, 5, [3, 3.2], 0.3),
  path(lineD4_a, GREEN, 5, [3, 3.2], 0.3),
  path(lineD5_a, GREEN, 5, [3, 3.2], 0.3),
]);

const panelBSets = () => ordered([
  echo(echoMain, "#d2d2d2"),
  echo(holeCentre, "#ffffff"), echo(holeSmall1, "#ffffff"), echo(holeSmall2, "#ffffff"),
  echo(westB, "#d6d6d6"), echo(westBInner, "#bcbcbc"), echo(westA, "#d2d2d2"), echo(westAInner, "#a8a8a8"),
  echo(northA, "#d2d2d2"), echo(northAInner, "#bcbcbc"), echo(northB, "#cfcfcf"), echo(westC, "#d6d6d6"), echo(westCInner, "#b4b4b4"),
  echo(eastBlob, "#dddddd"), echo(eastBlobInner, "#c6c6c6"), echo(edgeBlob, "#c6c6c6"),
  echo(d5Top, "#dddddd"), echo(d5Bottom, "#dddddd"), echo(d5Outer, "#a8a8a8"), echo(d5Inner, "#888888"),
  echo(d4Outer, "#c8c8c8"), echo(d4Inner, "#8e8e8e"), echo(d4Core, "#6a6a6a"),
  echo(isleOuter, "#c8c8c8"), echo(isleInner, "#9a9a9a"),
  echo(d2Outer, "#c8c8c8"), echo(d2Inner, "#858585"), echo(d15Blob, "#cccccc"),
  echo(d1Outer, "#c8c8c8"), echo(d1Inner, "#6a6a6a"),
  echo(upperMid, "#b4b4b4"), echo(upperMidB, "#b4b4b4"), echo(upperMidC, "#b8b8b8"), echo(upperMidD, "#b0b0b0"),
  echo(upperDeep, "#8a8a8a"), echo(upperDeepW, "#707070"), echo(upperDeepE, "#6a6a6a"),
  echo(coreN, "#484848"), echo(coreNE, "#3c3c3c"), echo(stripA, "#666666"), echo(stripB, "#777777"),
  echo(lowerWest, "#b0b0b0"), echo(lowerDeep, "#808080"), echo(lowerUp, "#808080"), echo(lowerC, "#787878"),
  echo(lowerD, "#888888"), echo(lowerE, "#707070"), echo(lowerCore, "#444444"), echo(lowerUpCore, "#4a4a4a"),
  echo(midBand, "#b0b0b0"), echo(midDeep, "#7e7e7e"), echo(midCoreA, "#505050"), echo(midCoreB, "#5a5a5a"),
  marks(specksDark, "rectRot", 3.5, "#777777", "#777777", 0),
  marks(specksMid, "rectRot", 4, "#b4b4b4", "#b4b4b4", 0),
  marks(specksLight, "rect", 3.5, "#e0e0e0", "#e0e0e0", 0),
  marks(specksBlack, "rectRot", 5, "#222222", "#222222", 0),
  ...coastSets(1.2),
  path(sightA, "#000", 1.6, [8, 8]),
  path(sightB, "#000", 1.6, [8, 8]),
  path(sightC, "#000", 1.6, [8, 8]),
  marks(squares, "rect", 9.2, "#000"),
  marks(diamonds, "rectRot", 6.5, "#000"),
  path(lineB_b, BLUE, 7.5, [4, 4.2], 0.3),
  path(lineC_b, RED, 7.5, [4, 4.2], 0.3),
  path(lineC3_b, RED, 7.5, [4, 4.2], 0.3),
  path(lineD1_b, GREEN, 7.5, [4, 4.2], 0.3),
  path(lineD2_b, GREEN, 7.5, [4, 4.2], 0.3),
  path(lineD3_b, GREEN, 7.5, [4, 4.2], 0.3),
  path(lineD4_b, GREEN, 7.5, [4, 4.2], 0.3),
  path(lineD5_b, GREEN, 7.5, [4, 4.2], 0.3),
]);

const common: any = { responsive: false, animation: false, events: [] };
const off = { legend: { display: false }, tooltip: { enabled: false } };
const tickFont = { family: FONT, size: 15.5 };
const titleFont = { family: FONT, size: 15.5, lineHeight: 1 };

export default function App() {
  const a = useRef<HTMLCanvasElement>(null);
  const bar = useRef<HTMLCanvasElement>(null);
  const b = useRef<HTMLCanvasElement>(null);

  useEffect(() => {
    const chartA = new Chart(a.current!, {
      type: "scatter",
      data: { datasets: panelASets() as any },
      plugins: [panelPlugin],
      options: {
        ...common,
        layout: { padding: { top: 57, right: 16, left: 0, bottom: 0 } },
        plugins: { ...off, panel: { tick: 6.5, xTicks: true, width: 1.5, labels: labelList(labelsA, 20, 26, true) } } as any,
        scales: {
          x: {
            type: "linear", min: -60, max: 60,
            grid: { display: false, drawTicks: false }, border: { display: false },
            ticks: { stepSize: 10, font: tickFont, color: "#000", padding: 6, maxRotation: 0, autoSkip: false },
            title: { display: true, text: "Distance (km)", font: titleFont, color: "#000", padding: { top: 0, bottom: 0 } },
            afterFit: (s: any) => { s.height = 50; },
          },
          y: {
            type: "linear", min: -60, max: 60,
            grid: { display: false, drawTicks: false }, border: { display: false },
            ticks: { stepSize: 20, font: tickFont, color: "#000", padding: 9.5, autoSkip: false },
            title: { display: true, text: "Distance (km)", font: titleFont, color: "#000", padding: { top: 9, bottom: 0 } },
            afterFit: (s: any) => { s.width = 73; },
          },
        },
      },
    } as any);

    const chartBar = new Chart(bar.current!, {
      type: "bar",
      data: {
        labels: [""],
        datasets: barGreys.map((g, i) => ({
          data: [[barEdges[i], barEdges[i + 1]]],
          backgroundColor: `rgb(${g},${g},${g})`,
          borderWidth: 0,
          barPercentage: 1,
          categoryPercentage: 1,
          inflateAmount: 0.5,
        })) as any,
      },
      plugins: [panelPlugin],
      options: {
        ...common,
        layout: { padding: { top: 56, bottom: 50, left: 11, right: 0 } },
        plugins: { ...off, panel: { onTop: true, tick: 5, width: 1.5 } } as any,
        scales: {
          x: { display: false, stacked: true },
          y: {
            type: "linear", position: "right", min: 10, max: 19,
            grid: { display: false, drawTicks: false }, border: { display: false },
            ticks: { stepSize: 1, font: tickFont, color: "#000", padding: 8.5 },
            afterFit: (s: any) => { s.width = 37.5; },
          },
        },
      },
    } as any);

    const chartB = new Chart(b.current!, {
      type: "scatter",
      data: { datasets: panelBSets() as any },
      plugins: [panelPlugin],
      options: {
        ...common,
        layout: { padding: { top: 56, bottom: 51, left: 30, right: 49 } },
        plugins: { ...off, panel: { width: 1.5, labels: labelList(labelsB, 20, 26, false) } } as any,
        scales: {
          x: { type: "linear", display: false, min: -60.9, max: 59.1 },
          y: { type: "linear", display: false, min: -59.1, max: 60.9 },
        },
      },
    } as any);

    return () => { chartA.destroy(); chartBar.destroy(); chartB.destroy(); };
  }, []);

  const canvasStyle = (left: number): React.CSSProperties => ({ position: "absolute", left, top: 0, display: "block" });
  const heading: React.CSSProperties = { position: "absolute", top: 13, font: `25px ${FONT}`, color: "#000" };

  return (
    <div style={{ position: "fixed", left: 0, top: 0, width: 1282, height: 668, overflow: "hidden", background: "#fff" }}>
      <canvas ref={a} width={650} height={668} style={canvasStyle(0)} />
      <canvas ref={bar} width={80} height={668} style={canvasStyle(650)} />
      <canvas ref={b} width={640} height={668} style={canvasStyle(700)} />
      <div style={{ ...heading, left: 74 }}>(a)</div>
      <div style={{ ...heading, left: 729 }}>(b)</div>
    </div>
  );
}
